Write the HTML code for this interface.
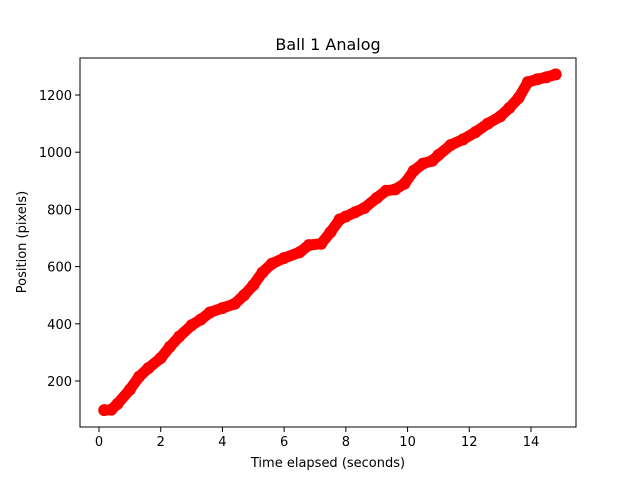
<!DOCTYPE html>
<html><head><meta charset="utf-8"><style>
body{margin:0;background:#fff;}
svg{display:block;font-family:"DejaVu Sans","Liberation Sans",sans-serif;}
</style></head><body>
<svg id="chart" width="640" height="480">
<rect x="0" y="0" width="640" height="480" fill="#fff"/>
</svg>
<script>
const times=[0.17,0.4,0.6,1.0,1.3,1.6,2.0,2.3,2.6,3.0,3.3,3.6,4.0,4.4,4.7,5.0,5.3,5.6,6.0,6.5,6.8,7.2,7.5,7.8,8.0,8.3,8.6,9.0,9.3,9.6,9.9,10.2,10.5,10.8,11.0,11.4,11.8,12.2,12.6,13.0,13.3,13.6,13.9,14.2,14.5,14.8];
const positions=[98,100,120,170,215,245,280,320,355,395,415,440,455,470,500,535,580,610,630,650,675,680,720,765,775,790,805,840,865,870,890,935,960,970,990,1025,1045,1070,1100,1125,1155,1190,1245,1255,1262,1272];
const xTicks=[0,2,4,6,8,10,12,14];
const yTicks=[200,400,600,800,1000,1200];
const NS="http://www.w3.org/2000/svg";
const svg=document.getElementById('chart');
const L=80,R=576,T=58,B=427;
function xs(v){return 99+v*(432/14);}
function ys(v){return 381-(v-200)*0.286;}
function mk(tag,attrs){const e=document.createElementNS(NS,tag);for(const k in attrs)e.setAttribute(k,attrs[k]);svg.appendChild(e);return e;}
// line under markers
const pl=mk('polyline',{points:times.map((t,i)=>xs(t)+','+ys(positions[i])).join(' '),fill:'none',stroke:'#ff0000','stroke-width':11,'stroke-linejoin':'round','stroke-linecap':'round'});


times.forEach((t,i)=>{
  const c=mk('circle',{cx:xs(t),cy:ys(positions[i]),r:6,fill:'#ff0000'});
  
  
});
const frame=mk('rect',{x:L,y:T,width:R-L,height:B-T,fill:'none',stroke:'#000','stroke-width':1});


xTicks.forEach(v=>{
  const x=xs(v);
  const tk=mk('line',{x1:x,x2:x,y1:B,y2:B+5,stroke:'#000'});
  
  
  const tx=mk('text',{x:x,y:B+19,'text-anchor':'middle','font-size':'13px'});
  tx.textContent=v;
  
  
});
yTicks.forEach(v=>{
  const y=ys(v);
  const tk=mk('line',{x1:L-5,x2:L,y1:y,y2:y,stroke:'#000'});
  
  
  const tx=mk('text',{x:L-8,y:y+5,'text-anchor':'end','font-size':'13px'});
  tx.textContent=v;
  
  
});
const title=mk('text',{x:328,y:50,'text-anchor':'middle','font-size':'16px'});
title.textContent='Ball 1 Analog';


const xl=mk('text',{x:328,y:467,'text-anchor':'middle','font-size':'13px'});
xl.textContent='Time elapsed (seconds)';


const yl=mk('text',{x:0,y:0,'text-anchor':'middle','font-size':'13px',transform:'translate(26,242) rotate(-90)'});
yl.textContent='Position (pixels)';


</script>
</body></html>
